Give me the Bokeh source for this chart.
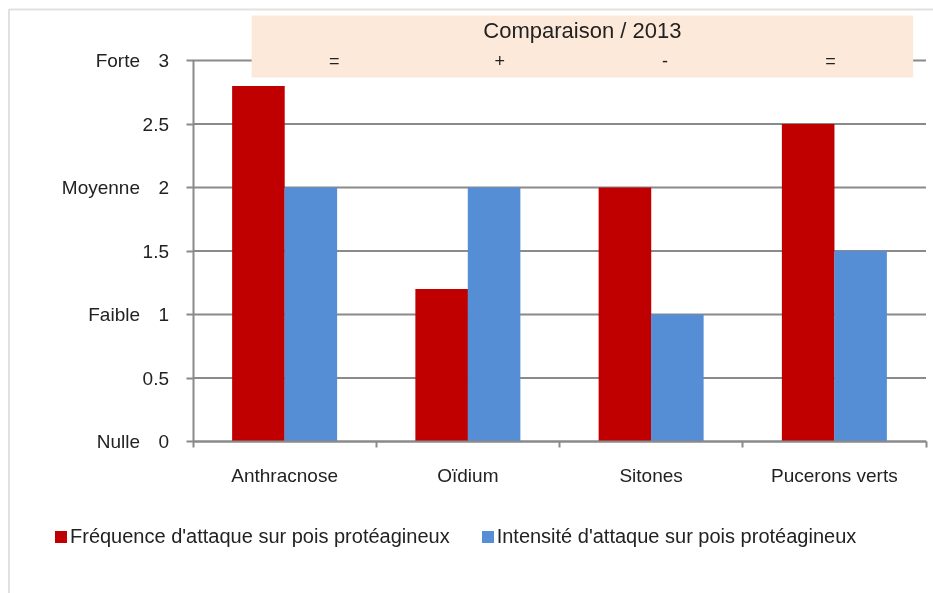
import numpy as np
from bokeh.plotting import figure
from bokeh.models import (Range1d, FixedTicker, ColumnDataSource, BoxAnnotation,
                          Label, Legend, LegendItem, LinearAxis)
from bokeh.embed import file_html
from bokeh.resources import INLINE

# ---- data ----
categories = ["Anthracnose", "Oïdium", "Sitones", "Pucerons verts"]
frequence = [2.8, 1.2, 2.0, 2.5]
intensite = [2.0, 2.0, 1.0, 1.5]
series_names = ["Fréquence d'attaque sur pois protéagineux",
                "Intensité d'attaque sur pois protéagineux"]
comparaison_title = "Comparaison / 2013"
comparaison = ["=", "+", "-", "="]
y_ticks = [0, 0.5, 1, 1.5, 2, 2.5, 3]
y_tick_labels = ["0", "0.5", "1", "1.5", "2", "2.5", "3"]
level_values = [0, 1, 2, 3]
level_names = ["Nulle", "Faible", "Moyenne", "Forte"]

FONT = "Liberation Sans"
TXT = "#222222"
GRID = "#8a8a8a"
RED = "#C00000"
BLUE = "#558ED5"

n = len(categories)
centers = np.arange(n) + 0.5
bar_w = 0.287
src = ColumnDataSource(dict(
    x_f=centers - 0.143, x_i=centers + 0.143,
    freq=frequence, inten=intensite))

# frame covers the whole visible window; axes are drawn at fixed data positions
PX_X = 183.25   # pixels per category
PX_Y = 127.0    # pixels per unit
X0, Y0 = 192.5, 441.0   # window position of data origin
W, H = 933, 593
PAD_L, PAD_B = 220, 60

p = figure(width=W + PAD_L, height=H + PAD_B, output_backend="svg", toolbar_location=None,
           x_range=Range1d(-X0 / PX_X, (W - X0) / PX_X),
           y_range=Range1d(-(H - Y0) / PX_Y, Y0 / PX_Y),
           min_border_left=PAD_L, min_border_right=0, min_border_top=0,
           min_border_bottom=PAD_B, outline_line_color=None,
           background_fill_color="white", border_fill_color="white")
p.styles = {"position": "fixed", "left": f"-{PAD_L}px", "top": "0px"}

# horizontal gridlines, limited to the category span
grid_src = ColumnDataSource(dict(y=y_ticks, x0=[0] * len(y_ticks), x1=[n] * len(y_ticks)))
p.segment(x0="x0", x1="x1", y0="y", y1="y", source=grid_src,
          line_color=GRID, line_width=2, level="underlay")
p.xgrid.visible = False
p.ygrid.visible = False

r1 = p.vbar(x="x_f", top="freq", width=bar_w, source=src, fill_color=RED, line_color=None)
r2 = p.vbar(x="x_i", top="inten", width=bar_w, source=src, fill_color=BLUE, line_color=None)

# y axis (numbers)
p.yaxis.fixed_location = 0
p.yaxis.ticker = FixedTicker(ticks=y_ticks)
p.yaxis.major_label_overrides = {t: l for t, l in zip(y_ticks, y_tick_labels)}
p.yaxis.bounds = (0, 3)
p.yaxis.axis_line_color = GRID
p.yaxis.axis_line_width = 2
p.yaxis.major_tick_line_color = GRID
p.yaxis.major_tick_line_width = 2
p.yaxis.major_tick_in = 0
p.yaxis.major_tick_out = 7
p.yaxis.minor_tick_line_color = None
p.yaxis.major_label_standoff = 17
p.yaxis.major_label_text_font = FONT
p.yaxis.major_label_text_font_size = "19px"
p.yaxis.major_label_text_color = TXT

# second left axis: qualitative levels
lvl_axis = LinearAxis(ticker=FixedTicker(ticks=level_values), fixed_location=0,
                      major_label_overrides={v: s for v, s in zip(level_values, level_names)},
                      axis_line_color=None, major_tick_line_color=None,
                      minor_tick_line_color=None, major_tick_in=0, major_tick_out=0,
                      major_label_standoff=53, major_label_text_font=FONT,
                      major_label_text_font_size="19px", major_label_text_color=TXT)
p.add_layout(lvl_axis, "left")

# x axis: labels at centers, ticks at category boundaries
p.xaxis.fixed_location = 0
p.xaxis.bounds = (0, n)
p.xaxis.ticker = FixedTicker(ticks=list(centers), minor_ticks=list(range(n + 1)))
p.xaxis.major_label_overrides = {float(c): lab for c, lab in zip(centers, categories)}
p.xaxis.axis_line_color = GRID
p.xaxis.axis_line_width = 2
p.xaxis.major_tick_line_color = None
p.xaxis.major_tick_in = 0
p.xaxis.major_tick_out = 0
p.xaxis.minor_tick_line_color = GRID
p.xaxis.minor_tick_line_width = 2
p.xaxis.minor_tick_in = 0
p.xaxis.minor_tick_out = 6
p.xaxis.major_label_standoff = 17
p.xaxis.major_label_text_font = FONT
p.xaxis.major_label_text_font_size = "19px"
p.xaxis.major_label_text_color = TXT

# chart-area border (left and top edges)
p.add_layout(BoxAnnotation(left=8.5, right=W + 50, top=H - 9, bottom=-50,
                           left_units="screen", right_units="screen",
                           top_units="screen", bottom_units="screen",
                           fill_alpha=0, line_color="#9a9a9a", line_width=2))

# comparison banner
b_left, b_right, b_bottom, b_top = 0.32, 3.93, 2.866, 3.354
p.add_layout(BoxAnnotation(left=b_left, right=b_right, bottom=b_bottom, top=b_top,
                           fill_color="#FDE9D9", fill_alpha=1.0, line_color=None))
p.add_layout(Label(x=(b_left + b_right) / 2, y=3.236, text=comparaison_title,
                   text_align="center", text_baseline="middle",
                   text_font=FONT, text_font_size="22px", text_color=TXT))
slot = (b_right - b_left) / len(comparaison)
for i, s in enumerate(comparaison):
    p.add_layout(Label(x=b_left + (i + 0.5) * slot, y=3.0, text=s,
                       text_align="center", text_baseline="middle",
                       text_font=FONT, text_font_size="18px", text_color=TXT))

legend = Legend(items=[LegendItem(label=series_names[0], renderers=[r1]),
                       LegendItem(label=series_names[1], renderers=[r2])],
                orientation="horizontal", location=(53, 45),
                glyph_width=15, glyph_height=15, label_standoff=2, spacing=30,
                padding=0, margin=0, background_fill_alpha=0, border_line_color=None,
                label_text_font=FONT, label_text_font_size="20px",
                label_text_color=TXT, label_height=15)
p.add_layout(legend)

open("out.html", "w").write(file_html(p, INLINE))
